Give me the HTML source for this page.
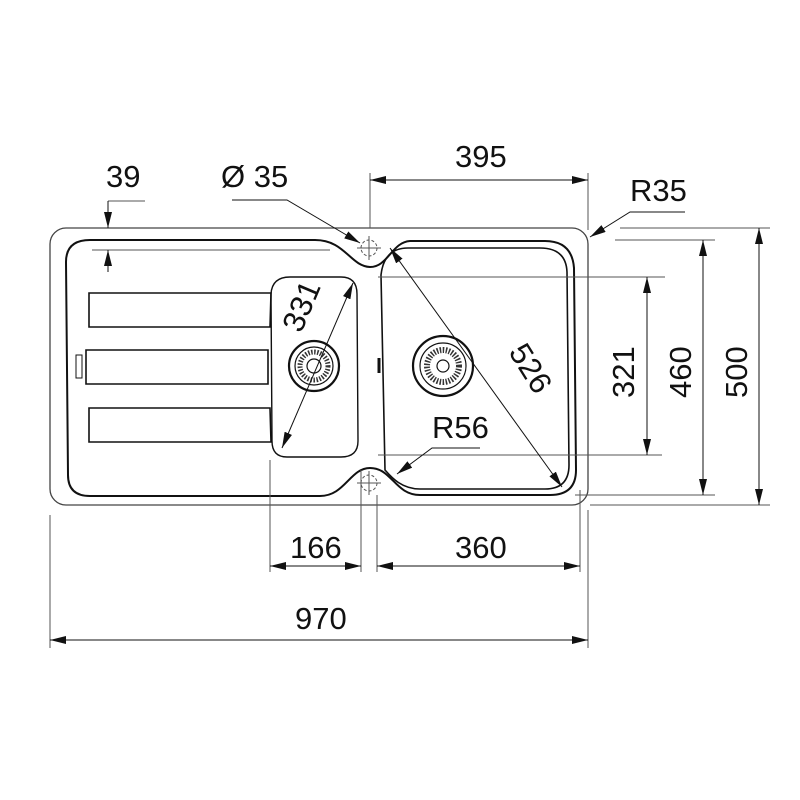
<!DOCTYPE html>
<html><head><meta charset="utf-8"><style>html,body{margin:0;padding:0;background:#fff}svg{display:block}</style></head><body>
<svg width="800" height="800" viewBox="0 0 800 800" xmlns="http://www.w3.org/2000/svg" font-family="Liberation Sans, sans-serif">
<defs>
<marker id="a" viewBox="0 0 16 8" refX="16" refY="4" markerWidth="16" markerHeight="8" markerUnits="userSpaceOnUse" orient="auto-start-reverse"><path d="M0,0L16,4L0,8z" fill="#111"/></marker>
</defs>
<g fill="none" stroke="#444" stroke-width="1.3">
<rect x="50" y="228" width="538" height="277" rx="16"/>
</g>
<g fill="none" stroke="#111" stroke-width="2">
<path d="M90,240 L315,240 C345,240 350,266 370,267 C388,267 392,242 410,241 L545,241 Q572,241 574,268 L576,470 Q576,495 550,495 L420,495 C395,495 392,468 370,468 C350,468 345,496 320,496 L90,496 Q68,496 68,475 L66,262 Q66,240 90,240 Z"/>
<path d="M408,248 L540,248 Q566,248 567,272 L569,465 Q569,489 545,489 L420,489 C402,489 392,478 385,470 L381,275 Q384,248 408,248 Z" stroke-width="1.6"/>
<path d="M290,277 L341,277 Q357,277 357,294 L358,441 Q358,457 341,457 L287,457 Q272,457 272,441 L271,294 Q272,277 290,277 Z" stroke-width="1.4"/>
<path d="M89,293 L271,293 L270,327 L89,327 Z M86,350 L268,350 L268,384 L86,384 Z M89,408 L270,408 L271,442 L89,442 Z" stroke-width="1.6"/>
<rect x="76" y="355" width="6" height="23" stroke-width="1"/>
<circle cx="314" cy="366" r="25" stroke-width="2.2"/>
<circle cx="314" cy="366" r="19" stroke-width="1.2"/>
<circle cx="314" cy="366" r="14" stroke-width="5" stroke="#333" stroke-dasharray="1.5 1.5"/>
<circle cx="314" cy="366" r="7" stroke-width="1.2"/>
<circle cx="443" cy="366" r="30" stroke-width="2.2"/>
<circle cx="443" cy="366" r="23" stroke-width="1.2"/>
<circle cx="443" cy="366" r="16" stroke-width="6" stroke="#333" stroke-dasharray="1.5 1.5"/>
<circle cx="443" cy="366" r="6" stroke-width="1.2"/>
<path d="M379,358 L379,373" stroke-width="3"/>
</g>
<g fill="none" stroke="#555" stroke-width="1">
<circle cx="369" cy="248" r="8" stroke-dasharray="3 2"/>
<path d="M357,248H381M369,236V260"/>
<circle cx="369" cy="483" r="8" stroke-dasharray="3 2"/>
<path d="M357,483H381M369,471V495"/>
<path d="M92,250H330"/>
<path d="M108,201H145"/>
<path d="M370,173V228M588,173V230"/>
<path d="M620,228H770M615,240H715M378,277H665M378,455H662M575,495H715M590,505H770"/>
<path d="M270,460V572M361,470V572M377,495V572M580,490V572M50,515V648M588,510V648"/>
</g>
<g stroke="#111" stroke-width="1" fill="none">
<path d="M108,201V228" marker-end="url(#a)"/>
<path d="M108,272V250" marker-end="url(#a)"/>
<path d="M232,200H287L360,243" marker-end="url(#a)"/>
<path d="M370,180H588" marker-start="url(#a)" marker-end="url(#a)"/>
<path d="M685,212H630L590,237" marker-end="url(#a)"/>
<path d="M647,277V455" marker-start="url(#a)" marker-end="url(#a)"/>
<path d="M703,240V495" marker-start="url(#a)" marker-end="url(#a)"/>
<path d="M759,228V505" marker-start="url(#a)" marker-end="url(#a)"/>
<path d="M270,566H361" marker-start="url(#a)" marker-end="url(#a)"/>
<path d="M377,566H580" marker-start="url(#a)" marker-end="url(#a)"/>
<path d="M50,640H588" marker-start="url(#a)" marker-end="url(#a)"/>
<path d="M353,283L282,448" marker-start="url(#a)" marker-end="url(#a)"/>
<path d="M390,248L562,487" marker-start="url(#a)" marker-end="url(#a)"/>
<path d="M480,448H432L397,474" marker-end="url(#a)"/>
</g>
<g fill="#111" font-size="31">
<text x="106" y="187">39</text>
<text x="221" y="187">Ø 35</text>
<text x="455" y="167">395</text>
<text x="630" y="201">R35</text>
<text x="432" y="438">R56</text>
<text x="290" y="558">166</text>
<text x="455" y="558">360</text>
<text x="295" y="629">970</text>
<text transform="translate(634,398) rotate(-90)">321</text>
<text transform="translate(691,398) rotate(-90)">460</text>
<text transform="translate(747,398) rotate(-90)">500</text>
<text transform="translate(301,334) rotate(-67)">331</text>
<text transform="translate(508,352) rotate(58)">526</text>
</g>
</svg>
</body></html>
